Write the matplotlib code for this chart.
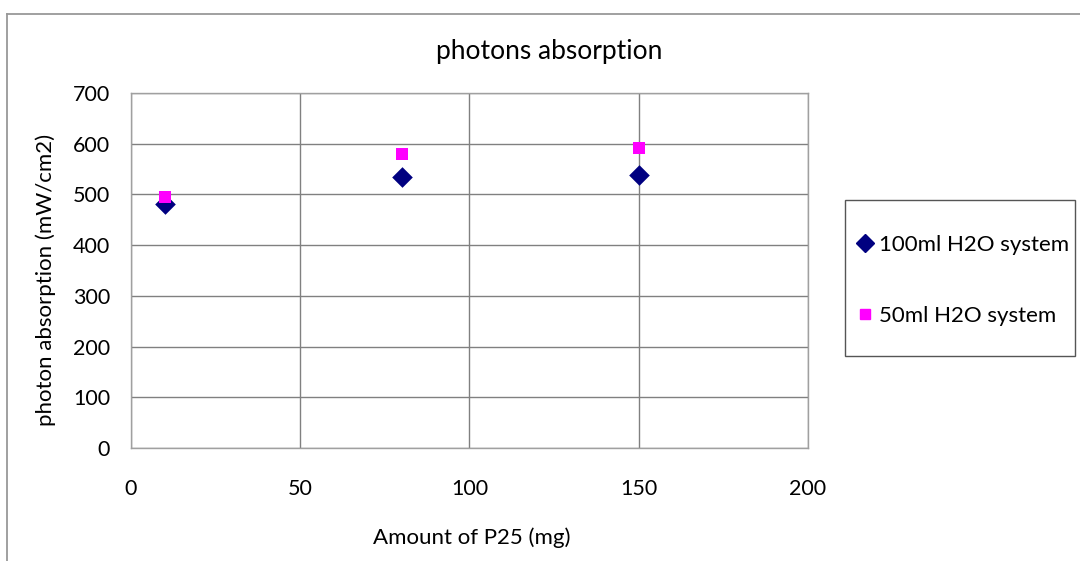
import matplotlib
matplotlib.use("Agg")
import matplotlib.pyplot as plt
from matplotlib.patches import Rectangle
from matplotlib.lines import Line2D

plt.rcParams['font.family'] = ['Lato', 'DejaVu Sans']

# data
p25_mg = [10, 80, 150]
abs_100ml = [482, 534, 538]
abs_50ml = [495, 580, 592]
label_100 = '100ml H2O system'
label_50 = '50ml H2O system'

W, H = 1080, 561
fig = plt.figure(figsize=(W / 100, H / 100), dpi=100)

def fx(px):
    return px / W

def fy(py):
    return 1 - py / H

ax = fig.add_axes([fx(131), fy(448), fx(808) - fx(131), fy(93) - fy(448)])
ax.scatter(p25_mg, abs_100ml, marker='D', s=10.5**2, color='#000080', zorder=3, linewidths=0)
ax.scatter(p25_mg, abs_50ml, marker='s', s=8**2, color='#FF00FF', zorder=4, linewidths=0)

ax.set_xlim(0, 200)
ax.set_ylim(0, 700)
ax.set_xticks(range(0, 201, 50))
ax.set_yticks(range(0, 701, 100))
ax.grid(True, color='#808080', linewidth=1.0)
ax.set_axisbelow(True)
for s in ax.spines.values():
    s.set_color('#a0a0a0')
    s.set_linewidth(1.0)
ax.tick_params(length=0, labelsize=15.5, colors='black')
ax.tick_params(axis='y', pad=15)
ax.tick_params(axis='x', pad=22)

fig.text(fx(549), fy(52), 'photons absorption', ha='center', va='center', fontsize=19)
fig.text(fx(472), fy(538), 'Amount of P25 (mg)', ha='center', va='center', fontsize=16)
fig.text(fx(46), fy(280), 'photon absorption (mW/cm2)', ha='center', va='center',
         rotation=90, fontsize=16)

# outer chart border (cropped on right and bottom)
fig.add_artist(Line2D([fx(7), 1], [fy(14), fy(14)], color='#999999', linewidth=1.3))
fig.add_artist(Line2D([fx(7), fx(7)], [0, fy(14)], color='#999999', linewidth=1.3))

# legend box
fig.add_artist(Rectangle((fx(845), fy(356)), fx(1075) - fx(845), fy(200) - fy(356),
                         facecolor='white', edgecolor='#555555', linewidth=1.0))
handles = [Line2D([], [], marker='D', linestyle='none', color='#000080', markersize=9),
           Line2D([], [], marker='s', linestyle='none', color='#FF00FF', markersize=7.5)]
fig.legend(handles, [label_100, label_50], loc='upper left',
           bbox_to_anchor=(fx(846), fy(224)), frameon=False, fontsize=16,
           handlelength=0.7, handletextpad=0.3, labelspacing=2.3, borderpad=0)

fig.savefig('out.png', dpi=100)
